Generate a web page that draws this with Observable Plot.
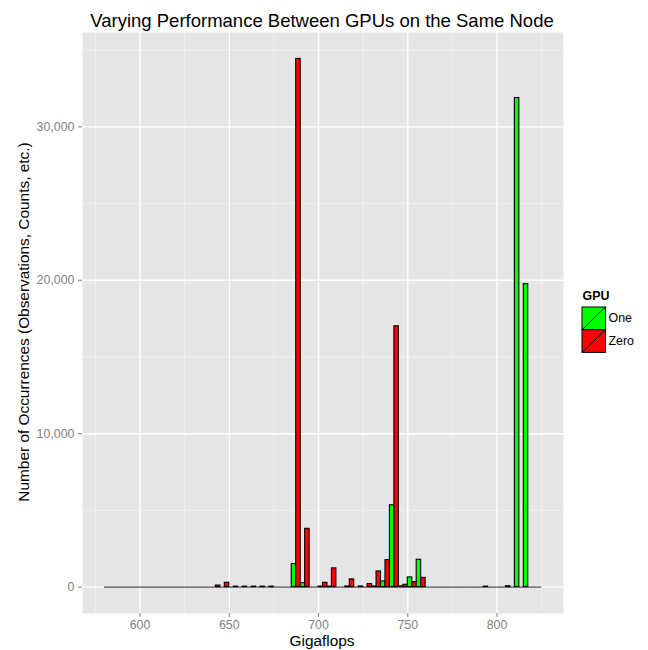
<!DOCTYPE html>
<html>
<head>
<meta charset="utf-8">
<script src="https://cdn.jsdelivr.net/npm/d3@7"></script>
<script src="https://cdn.jsdelivr.net/npm/@observablehq/plot@0.6"></script>
<style>
  html, body { margin: 0; padding: 0; background: white; }
  #chart { position: relative; width: 648px; height: 650px; }
</style>
</head>
<body>
<div id="chart"></div>
<script>
// Histogram bin starts (binwidth 5, Gigaflops)
const binStart = [580,585,590,595,600,605,610,615,620,625,630,635,640,645,650,655,660,665,670,675,
                  680,685,690,695,700,705,710,715,720,725,730,735,740,745,750,755,760,765,770,775,
                  780,785,790,795,800,805,810,815,820];
const binWidth = 5;
// counts for GPU "One"
const countOne  = [0,0,0,0,0,0,0,0,0,0,0,0,0,0,0,0,0,0,0,0,
                   0,1500,260,0,30,30,0,40,0,0,40,370,5340,50,630,1780,0,0,0,0,
                   0,0,0,0,0,60,31880,19750,0];
// counts for GPU "Zero"
const countZero = [0,0,0,0,0,0,0,0,0,0,0,0,100,280,30,30,30,30,30,0,
                   0,34430,3800,0,280,1220,0,500,40,200,1020,1760,17000,150,330,600,0,0,0,0,
                   0,0,30,0,0,0,0,0,0];
const groups = ["One", "Zero"];
const groupColors = ["#00FF00", "#FF0000"];

const xMajor = [600, 650, 700, 750, 800];
const xMinor = [575, 625, 675, 725, 775, 825];
const yMajor = [0, 10000, 20000, 30000];
const yMinor = [5000, 15000, 25000, 35000];

const title = "Varying Performance Between GPUs on the Same Node";
const xTitle = "Gigaflops";
const yTitle = "Number of Occurrences (Observations, Counts, etc.)";
const legendTitle = "GPU";

// build dodged bar table
const bars = [];
binStart.forEach((s, i) => {
  [countOne[i], countZero[i]].forEach((c, g) => {
    const half = binWidth / groups.length;
    bars.push({x1: s + g * half, x2: s + (g + 1) * half, count: c, gpu: groups[g]});
  });
});

const xLo = binStart[0], xHi = binStart[binStart.length - 1] + binWidth;
const xPad = (xHi - xLo) * 0.05;
const yMax = d3.max(bars, d => d.count);
const font = "'Liberation Sans', Arial, Helvetica, sans-serif";

const plot = Plot.plot({
  width: 648,
  height: 650,
  marginTop: 32,
  marginBottom: 37,
  marginLeft: 82,
  marginRight: 85,
  style: {fontFamily: font, background: "white", overflow: "visible"},
  x: {domain: [xLo - xPad, xHi + xPad]},
  y: {domain: [-0.05 * yMax, 1.05 * yMax]},
  color: {domain: groups, range: groupColors},
  marks: [
    Plot.frame({fill: "#E5E5E5", stroke: null}),
    Plot.ruleY(yMinor, {stroke: "#F2F2F2", strokeWidth: 0.8}),
    Plot.ruleX(xMinor, {stroke: "#F2F2F2", strokeWidth: 0.8}),
    Plot.ruleY(yMajor, {stroke: "white", strokeWidth: 1.4}),
    Plot.ruleX(xMajor, {stroke: "white", strokeWidth: 1.4}),
    Plot.ruleY(bars, {x1: "x1", x2: "x2", y: 0, stroke: "#333", strokeWidth: 1.1}),
    Plot.rectY(bars.filter(d => d.count > 0), {x1: "x1", x2: "x2", y1: 0, y2: "count", fill: "gpu", stroke: "black", strokeWidth: 1.1}),
    Plot.axisX(xMajor, {tickSize: 4, tickPadding: 3, fontSize: 12.4, color: "#7F7F7F", label: null}),
    Plot.axisY(yMajor, {tickSize: 4, tickPadding: 4, fontSize: 12.4, color: "#7F7F7F", label: null, tickFormat: d3.format(",")})
  ]
});

document.getElementById("chart").appendChild(plot);

const svg = d3.select(plot);
svg.append("text")
  .attr("x", 322).attr("y", 27)
  .attr("text-anchor", "middle")
  .attr("font-family", font).attr("font-size", 18.5).attr("fill", "black")
  .text(title);
svg.append("text")
  .attr("x", 322).attr("y", 646)
  .attr("text-anchor", "middle")
  .attr("font-family", font).attr("font-size", 15.4).attr("fill", "black")
  .text(xTitle);
svg.append("text")
  .attr("transform", "translate(29,322) rotate(-90)")
  .attr("text-anchor", "middle")
  .attr("font-family", font).attr("font-size", 15.4).attr("fill", "black")
  .text(yTitle);

// legend
const lg = svg.append("g").attr("font-family", font).attr("text-anchor", "start");
lg.append("text").attr("x", 582.5).attr("y", 300).attr("text-anchor", "start")
  .attr("font-size", 12.4).attr("font-weight", "bold").attr("fill", "black").text(legendTitle);
const kx = 582, ky = 307, kw = 23.5, kh = 22.7;
groups.forEach((g, i) => {
  const y0 = ky + i * kh;
  lg.append("rect").attr("x", kx).attr("y", y0).attr("width", kw).attr("height", kh)
    .attr("fill", groupColors[i]).attr("stroke", "black").attr("stroke-width", 1);
  lg.append("line").attr("x1", kx).attr("y1", y0 + kh).attr("x2", kx + kw).attr("y2", y0)
    .attr("stroke", "black").attr("stroke-width", 1);
  lg.append("text").attr("x", kx + kw + 3).attr("y", y0 + kh / 2).attr("text-anchor", "start")
    .attr("dominant-baseline", "central")
    .attr("font-size", 12.4).attr("fill", "black").text(g);
});
</script>
</body>
</html>
